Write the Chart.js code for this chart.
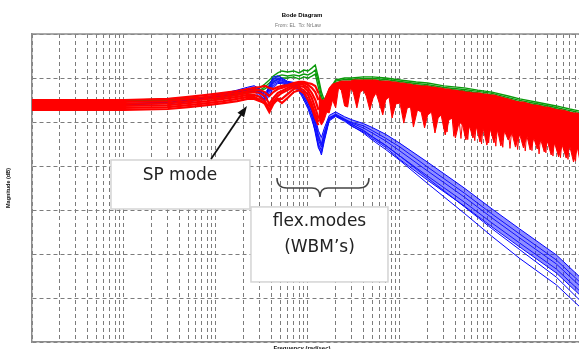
<!DOCTYPE html>
<html><head><meta charset="utf-8">
<script src="https://cdn.jsdelivr.net/npm/chart.js@4.4.0/dist/chart.umd.min.js"></script>
<style>html,body{margin:0;padding:0;background:#fff;overflow:hidden}</style>
</head><body>
<canvas id="c" width="579" height="349"></canvas>
<script>
// ---------- axis definition ----------
const xMin = 1, xMax = 8.83e5;          // frequency (rad/sec), log axis
const yMin = -80, yMax = 60, yStep = 20; // magnitude (dB)
const gridMantissas = [1,2,3,4,5,6,7,8,9];
const gridDecades = [1,10,100,1000,10000,100000];

// ---------- red traces (low / mid frequency) ----------
const freqRed = [1,10,30,50,80,120,170,220,260,300,340,380,420,470,520,600,700,800,900,1000,1100,1200,1300];
const red1 = [30,30,30.5,31.4,32.3,33.2,34.1,35,35.5,35.9,36.4,35.5,35,35.9,36.4,36.8,37.7,38.2,38.2,37.7,37.3,36.4,33.2];
const red2 = [29.1,29.1,29.5,30.5,31.4,32.3,33.2,34.1,34.5,34.5,33.6,31.8,33.6,35,35.5,36.4,37.3,37.7,37.7,36.8,35.5,33.6,30];
const red3 = [28.2,28.2,28.6,29.5,30.5,31.4,32.3,33.2,33.6,33.2,31.8,28.2,30.9,33.2,34.1,35.5,36.8,37.3,36.8,35.5,33.2,30,25.5];
const red4 = [27.3,27.3,27.7,28.6,29.5,30.5,31.4,32.3,32.3,31.4,29.5,25.5,29.5,31.8,33.2,34.5,35.9,36.4,35.9,34.1,30.9,26.4,21.8];
const red5 = [26.4,26.4,26.8,27.7,28.6,29.5,30.5,31.4,31.4,30,28.2,24.5,28.2,30.5,30.5,32.7,35,35.5,34.5,32.3,28.2,23.6,20];
const red6 = [25.5,25.5,25.9,26.8,27.7,28.6,29.5,30.5,30.5,29.5,28.6,27.3,29.1,30,28.6,30.9,33.6,34.5,33.2,30,26.4,21.8,18.6];

// ---------- red high-frequency envelope (top) and spiky lower edge ----------
const freqRedHF = [1300,1400,1500,1600,1700,1850,2000,2150,2300,2500,2700,2900,3100,3400,3700,4000,4300,4700,5100,5500,6000,6500,7000,7600,8200,9000,10000,11000,12000,13000,14000,15500,17000,18500,20000,22000,24000,26000,28000,31000,34000,37000,40000,44000,48000,52000,57000,62000,68000,74000,80000,88000,96000,105000,115000,125000,137000,150000,165000,180000,200000,220000,240000,260000,285000,310000,340000,370000,400000,440000,480000,530000,580000,640000,700000,770000,850000,900000];
const redTopHF = [33.2,30,30,32.7,35.5,37.3,37.7,38.2,38.6,38.6,38.6,38.6,39.1,39.1,39.1,39.1,39.1,39.1,39.1,39.1,38.6,38.6,38.6,38.6,38.2,38.2,37.7,37.7,37.3,37.3,36.8,36.8,36.4,36.4,36.4,35.9,35.9,35.5,35.5,35,35,34.5,34.5,34.1,34.1,33.6,33.6,33.2,33.2,33.2,32.7,32.7,32.3,32.3,31.8,31.4,30.9,30.5,30,29.5,29.1,29.1,28.6,28.2,27.7,27.7,27.3,26.8,26.8,26.4,25.9,25.5,25.5,25,24.5,24.1,24.1,23.6];
const redBotHF = [21.8,18.6,20.9,24.5,24.1,30,26.4,35.5,34.5,27.3,26.8,35.5,33.6,26.4,33.6,34.5,31.8,25.5,30.9,33.2,28.2,23.2,30,31.4,21.8,28.2,28.6,19.5,26.4,26.8,17.7,25.5,24.5,17.3,23.2,24.5,15,21.8,23.2,14.1,20.9,21.8,12.7,20,18.6,11.8,18.2,12.7,17.7,10.9,17.3,9.5,16.8,10.5,16.4,9.1,15.9,11.8,15,8.6,14.5,8.2,13.6,7.3,12.7,7.7,11.8,6.4,11.4,5,10.5,4.1,9.5,3.6,9.1,1.8,8.2,2.7];
// extra thin red resonance spikes between the ones above
const freqRedSpk = [29500,32500,35500,38500,42000,46000,50000,54500,59500,65000,71000,77000,84000,92000,100000,110000,120000,131000,143000,157000,172000,190000,210000,230000,250000,272000,297000,325000,355000,385000,420000,460000,505000,555000,610000,670000,735000,810000,875000];
const redSpk = [30,15.5,30,13.5,29.5,12.5,29,12,28.5,11.5,28,10,28,10.5,27.5,9,27,8.5,26.5,8,26,7.5,25.5,6.8,25,7,24.5,5.5,24,6,23.5,4.5,23,3.8,22.5,3,22,2.2,21.5];

// ---------- blue traces ----------
const freqBlue = [1,10,30,50,80,120,170,220,260,300,340,380,420,470,520,600,700,800,900,1000,1100,1200,1300,1400,1500,1700,2000,2500,3000,4000,5000,7000,1e4,2e4,5e4,1e5,2e5,5e5,9e5];
const blue1 = [28.5,28.5,29,30,31.5,33,34.5,35.8,36.5,35,30.5,37,40.5,41,40,38.5,38,36.5,34,30.5,27,22,16,13,17,23,24.6,22.4,21,19.3,17.5,14.4,10.3,1.7,-10,-19.5,-28.6,-40.4,-50.4];
const blue2 = [28,28,28.4,29.2,30.5,32,33.2,34.6,35.2,34,32.5,34,37.5,38.5,38,37.5,37,35,31.5,27.5,23,17,10,7,13,21,23,21,19.8,18.3,16.1,12.6,8.6,-0.5,-12.3,-21.8,-30.9,-42.7,-52.7];
const blue3 = [28.2,28.2,28.6,29.5,30.9,32.3,33.6,35.0,35.5,33.6,31.8,35.5,38.2,39.1,38.6,37.7,37.3,35.5,32.3,28.6,24.5,18.6,11.8,8.6,14.1,21.8,23.6,21.4,19.5,17.3,15.0,11.4,6.8,-2.3,-14.1,-23.6,-32.7,-44.5,-54.5];
const blue4 = [28,28,28.5,29.3,30.8,32,33.3,34.5,34.8,32.5,30,33.5,36.5,38,38,37,36.5,34.5,31,27,22.5,15,8,6,12,21,23,20.8,18.8,16.3,13.4,9.4,4.5,-4.6,-16.4,-25.9,-35,-46.8,-56.8];
const blue5 = [28.3,28.3,28.7,29.6,31,32.5,33.8,34.2,34,31,29,32,35.5,37.5,37.5,36.5,36,34,30,26,21,16,9,5,11,20.5,22.5,20.3,18,15.5,12.5,8.4,2.9,-6.5,-18.2,-27.7,-36.8,-48.6,-58.6];
const blue6 = [28.2,28.2,28.6,29.5,30.9,32.3,33.6,34.8,35.3,33.2,31,35,38.8,39.5,39,38,37.2,35.2,32.8,29.5,25.5,20,14,10,15,22,23.2,21.2,19,16,13.2,9.3,4.5,-5.5,-18.5,-28.5,-38,-50.5,-61];
const blue7 = [28,28,28.4,29.4,30.7,32.1,33.4,34.9,35.4,34.5,33,36,39.5,40,39.5,38.2,37.5,36,33,29,25,19.5,13,9.5,14.5,21.5,22.8,20.8,18.3,15,11.8,7.5,2.5,-8,-21.5,-32,-42,-54,-64];

// ---------- green traces ----------
const freqGreen = [1,100,260,300,340,380,420,470,520,600,700,800,900,1000,1100,1200,1300,1400,1500,1700,2000,2500,3000,4000,5000,7000,1e4,1.5e4,2e4,3e4,5e4,7e4,1e5,1.5e5,2e5,3e5,5e5,7e5,9e5];
const green1 = [28.2,31.4,34.5,35.5,37.3,39.1,40.9,42.3,43.2,42.7,43.2,42.3,43.6,43.2,44.5,45.9,40,33.6,30,34.5,39.1,40,40,40.5,40.5,40,39.1,38.2,37.7,36.4,35.5,34.5,33.6,31.8,30.5,29.1,27.3,25.9,25];
const green2 = [28.2,30.9,34.1,34.5,35.9,37.7,39.5,40.9,41.4,40.9,41.4,40.9,41.8,41.4,42.3,43.6,38.2,31.8,28.2,33.6,38.6,39.3,39.3,39.8,39.8,39.3,38.4,37.5,37,35.7,34.8,33.9,33,31.1,29.8,28.4,26.6,25.2,24.3];
const green3 = [28.2,30.5,33.6,34.1,35,36.4,38.2,39.5,40,40,40.5,39.5,40.5,40,40.9,41.8,35.5,30,27.3,32.3,37.7,38.6,38.6,39.1,39.1,38.6,37.7,36.8,36.4,35,34.1,33.2,32.3,30.5,29.1,27.7,25.9,24.5,23.6];

// ---------- texts ----------
const titleText = 'Bode Diagram';
const subtitleText = 'From: EL  To: NrLaw';
const xTitle = 'Frequency (rad/sec)';
const yTitle = 'Magnitude (dB)';
const spLabel = ['SP mode'];
const flexLabel = ['flex.modes', '(WBM\u2019s)'];

// ---------- colours ----------
const RED = '#ff0000', BLUE = '#0000ff', GREEN = '#0a9a0a';
const gridColor = '#7c7c7c', axisColor = '#8c8c8c';

const pts = (fs, vs) => fs.map((f, i) => ({x: f, y: vs[i]}));
const xGridTicks = [];
gridDecades.forEach(d => gridMantissas.forEach(m => { if (d * m <= xMax) xGridTicks.push(d * m); }));

const line = (fs, vs, color, w, extra) => Object.assign({
  data: pts(fs, vs), borderColor: color, backgroundColor: color, borderWidth: w,
  pointRadius: 0, fill: false, tension: 0
}, extra || {});

const datasets = [
  line(freqRedHF, redTopHF, RED, 1, {fill: '+1'}),
  line(freqRedHF, redBotHF, RED, 1),
  line(freqRedSpk, redSpk, RED, 1),
  line(freqRed, red1, RED, 2.2),
  line(freqRed, red2, RED, 2.2),
  line(freqRed, red3, RED, 2.2),
  line(freqRed, red4, RED, 2.2),
  line(freqRed, red5, RED, 2.2),
  line(freqRed, red6, RED, 2.2),
  line(freqBlue, blue1, BLUE, 1, {fill: '+4', backgroundColor: 'rgba(30,30,255,0.5)'}),
  line(freqBlue, blue2, BLUE, 1),
  line(freqBlue, blue3, BLUE, 1),
  line(freqBlue, blue4, BLUE, 1),
  line(freqBlue, blue5, BLUE, 1),
  line(freqBlue, blue6, BLUE, 1),
  line(freqBlue, blue7, BLUE, 1),
  line(freqGreen, green1, GREEN, 1.4),
  line(freqGreen, green2, GREEN, 1.4),
  line(freqGreen, green3, GREEN, 1.4)
];

// annotation anchors in data coordinates (freq, dB)
const spBox = {f1: 7.22, f2: 234, d1: 2.73, d2: -19.55, tf: 40.6, td: -4.55};
const flexBox = {f1: 240, f2: 7405, d1: -18.6, d2: -52.7, tf: 1334, td: [-25.45, -37.3]};
const spArrow = {f0: 88.3, d0: 3.18, f1: 217, d1: 27.3};
const brace = {fL: 460, fC: 1350, fR: 4603, dEnd: -5.45, dMid: -10, dTip: -14.1};

const overlay = {
  id: 'overlay',
  afterDraw(chart) {
    const {ctx, chartArea: ca, scales} = chart;
    const X = f => scales.x.getPixelForValue(f), Y = d => scales.y.getPixelForValue(d);
    ctx.save();
    // top frame line
    ctx.strokeStyle = axisColor; ctx.lineWidth = 1.5;
    ctx.beginPath(); ctx.moveTo(ca.left, ca.top); ctx.lineTo(ca.right, ca.top); ctx.stroke();

    // titles
    ctx.fillStyle = '#000'; ctx.textAlign = 'center'; ctx.textBaseline = 'middle';
    ctx.font = 'bold 6px "Liberation Sans", Arial, sans-serif';
    ctx.fillText(titleText, 302, 15);
    ctx.fillStyle = '#777'; ctx.font = '5px "Liberation Sans", Arial, sans-serif';
    ctx.fillText(subtitleText, 298, 26);
    ctx.fillStyle = '#111'; ctx.font = 'bold 6px "Liberation Sans", Arial, sans-serif';
    ctx.textBaseline = 'top';
    ctx.fillText(xTitle, 302, 345.5);
    ctx.save(); ctx.translate(8, (ca.top + ca.bottom) / 2); ctx.rotate(-Math.PI / 2);
    ctx.textBaseline = 'middle'; ctx.font = 'bold 5.5px "Liberation Sans", Arial, sans-serif';
    ctx.fillText(yTitle, 0, 0); ctx.restore();

    // boxes
    const drawBox = (b, lines) => {
      const x1 = X(b.f1), x2 = X(b.f2), y1 = Y(b.d1), y2 = Y(b.d2);
      ctx.fillStyle = '#fff'; ctx.fillRect(x1, y1, x2 - x1, y2 - y1);
      ctx.strokeStyle = '#d4d4d4'; ctx.lineWidth = 1.5; ctx.strokeRect(x1, y1, x2 - x1, y2 - y1);
      ctx.fillStyle = '#222'; ctx.font = '17px "DejaVu Sans", Verdana, sans-serif';
      ctx.textAlign = 'center'; ctx.textBaseline = 'middle';
      const tds = Array.isArray(b.td) ? b.td : [b.td];
      lines.forEach((t, i) => ctx.fillText(t, X(b.tf), Y(tds[i])));
    };
    drawBox(spBox, spLabel);
    drawBox(flexBox, flexLabel);

    // arrow
    const ax0 = X(spArrow.f0), ay0 = Y(spArrow.d0), ax1 = X(spArrow.f1), ay1 = Y(spArrow.d1);
    const ang = Math.atan2(ay1 - ay0, ax1 - ax0);
    ctx.strokeStyle = '#111'; ctx.fillStyle = '#111'; ctx.lineWidth = 1.8;
    ctx.beginPath(); ctx.moveTo(ax0, ay0);
    ctx.lineTo(ax1 - 8 * Math.cos(ang), ay1 - 8 * Math.sin(ang)); ctx.stroke();
    ctx.beginPath(); ctx.moveTo(ax1, ay1);
    ctx.lineTo(ax1 - 11 * Math.cos(ang) + 4 * Math.sin(ang), ay1 - 11 * Math.sin(ang) - 4 * Math.cos(ang));
    ctx.lineTo(ax1 - 11 * Math.cos(ang) - 4 * Math.sin(ang), ay1 - 11 * Math.sin(ang) + 4 * Math.cos(ang));
    ctx.closePath(); ctx.fill();

    // curly brace
    const bl = X(brace.fL), bc = X(brace.fC), br = X(brace.fR);
    const ye = Y(brace.dEnd), ym = Y(brace.dMid), yt = Y(brace.dTip);
    ctx.strokeStyle = '#444'; ctx.lineWidth = 1.5;
    ctx.beginPath();
    ctx.moveTo(bl, ye);
    ctx.quadraticCurveTo(bl, ym, bl + 10, ym);
    ctx.lineTo(bc - 8, ym);
    ctx.quadraticCurveTo(bc, ym, bc, yt);
    ctx.quadraticCurveTo(bc, ym, bc + 8, ym);
    ctx.lineTo(br - 10, ym);
    ctx.quadraticCurveTo(br, ym, br, ye);
    ctx.stroke();
    ctx.restore();
  }
};

new Chart(document.getElementById('c'), {
  type: 'line',
  data: {datasets},
  options: {
    responsive: false, animation: false, devicePixelRatio: 1,
    layout: {padding: {left: 32, top: 34, right: 0, bottom: 7}},
    plugins: {legend: {display: false}, tooltip: {enabled: false}, title: {display: false}},
    scales: {
      x: {
        type: 'logarithmic', min: xMin, max: xMax,
        ticks: {display: false, autoSkip: false},
        grid: {color: gridColor, lineWidth: 1, drawTicks: false},
        border: {display: true, color: axisColor, width: 1.5, dash: [4, 3]},
        afterBuildTicks: s => { s.ticks = xGridTicks.map(v => ({value: v})); }
      },
      y: {
        type: 'linear', min: yMin, max: yMax,
        ticks: {display: false, stepSize: yStep},
        grid: {color: gridColor, lineWidth: 1, drawTicks: false},
        border: {display: true, color: axisColor, width: 1.5, dash: [4, 3]}
      }
    }
  },
  plugins: [overlay]
});
</script>
</body></html>
